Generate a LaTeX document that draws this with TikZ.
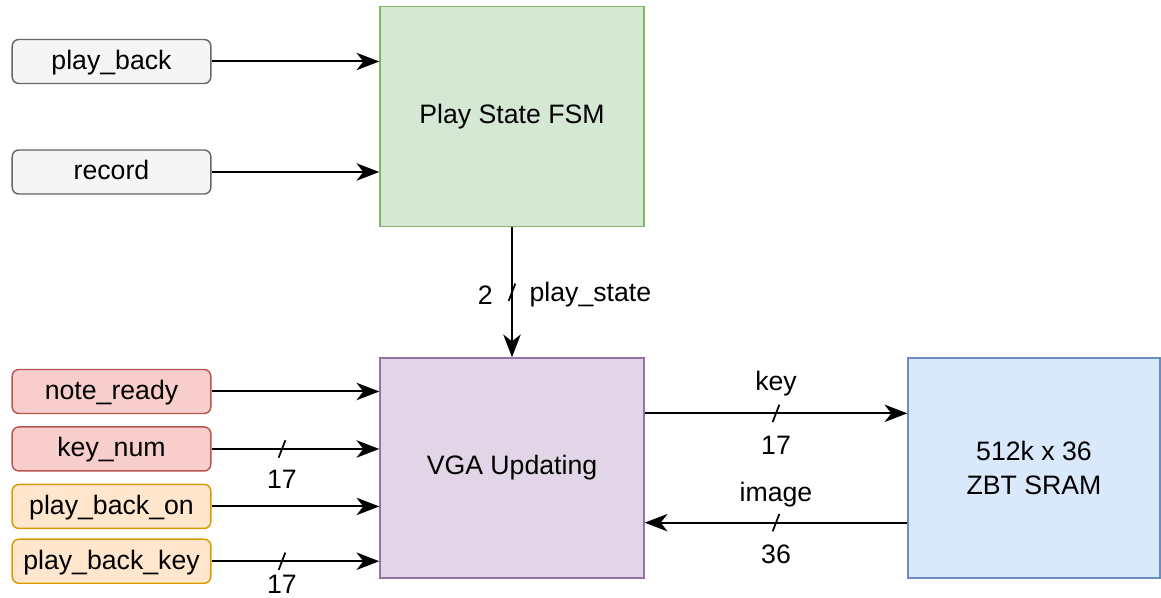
\documentclass[tikz,border=0pt]{standalone}
\usepackage{fontspec}
\setmainfont{Liberation Sans}
\usetikzlibrary{positioning,arrows.meta}

\definecolor{greyfill}{HTML}{F5F5F5}
\definecolor{greydraw}{HTML}{666666}
\definecolor{fsmfill}{HTML}{D5E8D4}
\definecolor{fsmdraw}{HTML}{82B366}
\definecolor{vgafill}{HTML}{E1D5E7}
\definecolor{vgadraw}{HTML}{9673A6}
\definecolor{ramfill}{HTML}{DAE8FC}
\definecolor{ramdraw}{HTML}{6C8EBF}
\definecolor{redfill}{HTML}{F8CECC}
\definecolor{reddraw}{HTML}{B85450}
\definecolor{orangefill}{HTML}{FFE6CC}
\definecolor{orangedraw}{HTML}{D79B00}

% bus width tick across a wire
\newcommand{\busslash}[1]{\draw[line width=1.3pt] ([shift={(-2.5pt,-6.5pt)}]#1) -- ([shift={(2.5pt,6.5pt)}]#1);}

\begin{document}
\begin{tikzpicture}[x=0.75pt,y=-0.75pt,
    block/.style={rectangle, line width=1.1pt, minimum width=198pt, minimum height=165pt, align=center, font=\fontsize{20}{25}\selectfont},
    signode/.style={rectangle, rounded corners=5pt, line width=1.1pt, minimum width=149pt, minimum height=33pt, inner sep=0pt, text height=16pt, text depth=4pt, font=\fontsize{20}{24}\selectfont},
    sig/.style={line width=1.5pt, -{Stealth[length=17pt,width=13pt,inset=5pt]}},
    buswidth/.style={inner sep=0pt, font=\fontsize{20}{24}\selectfont}]

    \useasboundingbox (0,0) rectangle (1161,598);

    % main blocks
    \node[block, fill=fsmfill, draw=fsmdraw] (fsm) at (512,116.5) {Play State FSM};
    \node[block, fill=vgafill, draw=vgadraw] (vga) at (512,468) {VGA Updating};
    \node[block, fill=ramfill, draw=ramdraw, minimum width=189pt] (sram) at (1034,468) {512k x 36\\ZBT SRAM};

    % inputs
    \node[signode, fill=greyfill, draw=greydraw] (playback) at (111.5,61.5) {play\_back};
    \node[signode, fill=greyfill, draw=greydraw] (record) at (111.5,172) {record};
    \node[signode, fill=redfill, draw=reddraw] (noteready) at (111.5,391.5) {note\_ready};
    \node[signode, fill=redfill, draw=reddraw, below=9pt of noteready] (keynum) {key\_num};
    \node[signode, fill=orangefill, draw=orangedraw, below=9pt of keynum] (playbackon) {play\_back\_on};
    \node[signode, fill=orangefill, draw=orangedraw, below=7pt of playbackon] (playbackkey) {play\_back\_key};

    % wires into the FSM
    \draw[sig] (playback) -- (playback -| fsm.west);
    \draw[sig] (record) -- (record -| fsm.west);

    % play_state bus
    \draw[sig] (fsm) -- coordinate[pos=0.5] (psbus) (vga);
    \busslash{psbus}
    \node[buswidth] at ([xshift=-20pt,yshift=-2pt]psbus) {2};
    \node[buswidth, anchor=west] at ([xshift=13pt,yshift=-2pt]psbus) {play\_state};

    % wires into the VGA block
    \draw[sig] (noteready) -- (noteready -| vga.west);
    \draw[sig] (keynum) -- coordinate[pos=0.42] (knbus) (keynum -| vga.west);
    \busslash{knbus}
    \node[buswidth] at ([yshift=-23pt]knbus) {17};
    \draw[sig] (playbackon) -- (playbackon -| vga.west);
    \draw[sig] (playbackkey) -- coordinate[pos=0.42] (pkbus) (playbackkey -| vga.west);
    \busslash{pkbus}
    \node[buswidth] at ([yshift=-17pt]pkbus) {17};

    % memory interface
    \draw[sig] ([yshift=41pt]vga.east) -- coordinate[pos=0.5] (keybus) ([yshift=41pt]sram.west);
    \busslash{keybus}
    \node[buswidth] at ([yshift=22pt]keybus) {key};
    \node[buswidth] at ([yshift=-24pt]keybus) {17};
    \draw[sig] ([yshift=-41pt]sram.west) -- coordinate[pos=0.5] (imgbus) ([yshift=-41pt]vga.east);
    \busslash{imgbus}
    \node[buswidth] at ([yshift=21pt]imgbus) {image};
    \node[buswidth] at ([yshift=-24pt]imgbus) {36};

\end{tikzpicture}
\end{document}
